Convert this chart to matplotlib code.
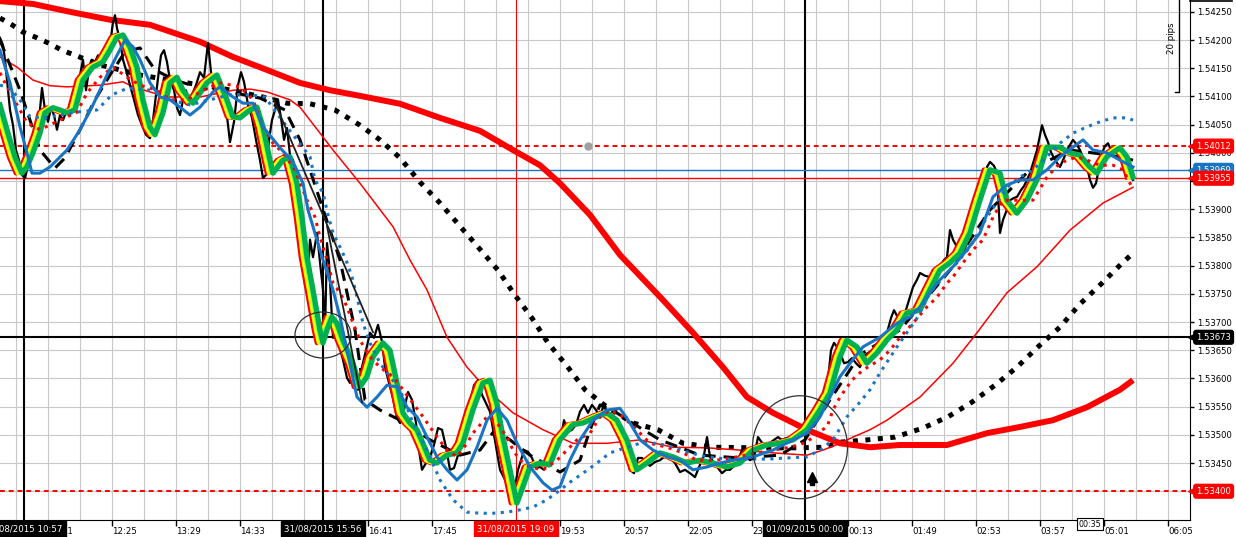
import matplotlib
matplotlib.use("Agg")
import matplotlib.pyplot as plt
from matplotlib.patches import Ellipse
from matplotlib.lines import Line2D
from matplotlib.transforms import offset_copy, blended_transform_factory

plt.rcParams['font.family'] = ['DejaVu Sans']

# ---- data ----
# bar index on x (1 bar ~ 1 px), price on y
time_ticks = [48, 112, 176, 240, 304, 368, 432, 496, 560, 624, 688, 752, 848, 912, 976, 1040, 1104, 1168]
time_labels = ['11:21', '12:25', '13:29', '14:33', '15:37', '16:41', '17:45', '18:49', '19:53',
               '20:57', '22:05', '23:09', '00:13', '01:49', '02:53', '03:57', '05:01', '06:05']

price_pts = [
    (0, 1.54204), (3, 1.54191), (5, 1.54165), (8, 1.54111), (10, 1.54076), (13, 1.54049), (16, 1.54005), (19, 1.53987), (22, 1.53961), (25, 1.53955),
    (27, 1.53970), (30, 1.54005), (33, 1.54023), (36, 1.54041), (39, 1.54058), (42, 1.54115), (45, 1.54076), (48, 1.54055), (51, 1.54080), (54, 1.54067),
    (57, 1.54041), (60, 1.54067), (63, 1.54058), (66, 1.54072), (70, 1.54067), (74, 1.54094), (78, 1.54120), (80, 1.54138), (83, 1.54165), (86, 1.54111),
    (89, 1.54147), (92, 1.54165), (95, 1.54161), (98, 1.54173), (101, 1.54156), (104, 1.54186), (107, 1.54182), (110, 1.54191), (113, 1.54232), (115, 1.54244),
    (117, 1.54221), (120, 1.54200), (123, 1.54165), (126, 1.54147), (130, 1.54120), (134, 1.54094), (138, 1.54067), (142, 1.54049), (146, 1.54032), (150, 1.54026),
    (153, 1.54058), (156, 1.54103), (159, 1.54147), (161, 1.54173), (164, 1.54182), (167, 1.54161), (170, 1.54129), (174, 1.54111), (177, 1.54080), (180, 1.54067),
    (183, 1.54094), (186, 1.54111), (189, 1.54085), (192, 1.54103), (196, 1.54120), (200, 1.54143), (204, 1.54133), (208, 1.54195), (211, 1.54143), (214, 1.54111),
    (218, 1.54120), (222, 1.54085), (226, 1.54080), (230, 1.54019), (234, 1.54055), (238, 1.54120), (241, 1.54143), (244, 1.54126), (248, 1.54085), (252, 1.54062),
    (256, 1.54023), (260, 1.53987), (263, 1.53955), (266, 1.53961), (269, 1.54023), (272, 1.54058), (275, 1.54076), (278, 1.54094), (281, 1.54062), (284, 1.54023),
    (287, 1.54044), (290, 1.53996), (293, 1.53987), (296, 1.53961), (299, 1.53899), (302, 1.53828), (305, 1.53766), (307, 1.53753), (310, 1.53846), (313, 1.53815),
    (317, 1.53858), (320, 1.53806), (323, 1.53757), (325, 1.53681), (327, 1.53840), (329, 1.53806), (331, 1.53739), (333, 1.53672), (336, 1.53695), (339, 1.53659),
    (343, 1.53633), (347, 1.53601), (350, 1.53592), (354, 1.53622), (358, 1.53580), (362, 1.53620), (366, 1.53650), (370, 1.53681), (374, 1.53672), (378, 1.53695),
    (382, 1.53665), (385, 1.53620), (389, 1.53592), (393, 1.53565), (397, 1.53530), (400, 1.53521), (404, 1.53544), (408, 1.53576), (412, 1.53562), (416, 1.53521),
    (419, 1.53473), (422, 1.53438), (426, 1.53450), (430, 1.53461), (434, 1.53482), (438, 1.53512), (442, 1.53509), (446, 1.53478), (450, 1.53438), (454, 1.53441),
    (458, 1.53464), (462, 1.53486), (466, 1.53512), (470, 1.53556), (474, 1.53588), (478, 1.53597), (482, 1.53571), (486, 1.53556), (490, 1.53541), (494, 1.53500),
    (497, 1.53470), (500, 1.53438), (504, 1.53424), (508, 1.53411), (512, 1.53397), (515, 1.53408), (518, 1.53438), (521, 1.53455), (524, 1.53473), (528, 1.53470),
    (532, 1.53459), (536, 1.53441), (540, 1.53443), (544, 1.53438), (548, 1.53452), (552, 1.53477), (556, 1.53491), (560, 1.53486), (564, 1.53526), (568, 1.53505),
    (572, 1.53509), (576, 1.53518), (580, 1.53541), (584, 1.53553), (588, 1.53539), (592, 1.53553), (596, 1.53544), (600, 1.53532), (603, 1.53549), (607, 1.53544),
    (611, 1.53530), (615, 1.53523), (619, 1.53512), (623, 1.53491), (627, 1.53477), (630, 1.53438), (634, 1.53432), (638, 1.53459), (642, 1.53459), (646, 1.53452),
    (650, 1.53445), (655, 1.53452), (660, 1.53455), (665, 1.53462), (670, 1.53459), (675, 1.53450), (680, 1.53434), (685, 1.53438), (690, 1.53432), (695, 1.53425),
    (700, 1.53447), (704, 1.53464), (707, 1.53496), (710, 1.53461), (714, 1.53450), (718, 1.53441), (722, 1.53432), (726, 1.53438), (730, 1.53438), (734, 1.53445),
    (738, 1.53455), (742, 1.53473), (746, 1.53462), (750, 1.53455), (754, 1.53459), (758, 1.53496), (762, 1.53486), (766, 1.53482), (770, 1.53486), (774, 1.53491),
    (778, 1.53496), (782, 1.53491), (786, 1.53494), (790, 1.53496), (795, 1.53498), (800, 1.53503), (805, 1.53505), (810, 1.53516), (815, 1.53526), (820, 1.53549),
    (824, 1.53571), (828, 1.53597), (831, 1.53650), (834, 1.53663), (837, 1.53656), (840, 1.53647), (844, 1.53627), (848, 1.53629), (852, 1.53636), (856, 1.53627),
    (860, 1.53620), (864, 1.53640), (868, 1.53645), (872, 1.53650), (877, 1.53656), (882, 1.53668), (887, 1.53681), (891, 1.53707), (894, 1.53721), (897, 1.53711),
    (901, 1.53707), (905, 1.53716), (909, 1.53739), (913, 1.53762), (917, 1.53775), (920, 1.53787), (925, 1.53782), (930, 1.53780), (935, 1.53789), (940, 1.53799),
    (944, 1.53810), (947, 1.53815), (950, 1.53863), (953, 1.53846), (957, 1.53833), (960, 1.53828), (963, 1.53822), (967, 1.53840), (970, 1.53858), (973, 1.53911),
    (977, 1.53916), (980, 1.53922), (984, 1.53952), (987, 1.53975), (990, 1.53984), (994, 1.53977), (997, 1.53964), (1000, 1.53858), (1003, 1.53881), (1006, 1.53895),
    (1010, 1.53916), (1014, 1.53920), (1017, 1.53922), (1021, 1.53934), (1024, 1.53941), (1027, 1.53952), (1030, 1.53964), (1034, 1.53987), (1037, 1.54005), (1040, 1.54032),
    (1042, 1.54049), (1045, 1.54032), (1048, 1.54019), (1051, 1.54001), (1054, 1.53991), (1057, 1.53982), (1060, 1.53975), (1064, 1.53991), (1067, 1.54005), (1070, 1.54014),
    (1073, 1.54023), (1077, 1.54014), (1080, 1.54005), (1084, 1.53987), (1087, 1.53975), (1090, 1.53952), (1093, 1.53938), (1096, 1.53946), (1099, 1.53973), (1102, 1.54000),
    (1105, 1.54012), (1108, 1.54017), (1111, 1.54005), (1114, 1.54000), (1117, 1.54009), (1120, 1.54005), (1124, 1.53993), (1127, 1.53982), (1130, 1.53966), (1133, 1.53952),
]

# rainbow base (green) MA
green_x = [0, 7, 15, 22, 27, 33, 40, 45, 53, 60, 67, 75, 83, 93, 103, 110, 117, 123, 130, 137,
           143, 150, 155, 163, 170, 177, 183, 193, 207, 217, 227, 233, 240, 250, 257, 263, 270, 273, 283, 290,
           297, 302, 307, 313, 320, 323, 327, 332, 337, 343, 353, 360, 367, 373, 383, 390, 397, 403, 410, 417,
           423, 430, 437, 447, 457, 463, 473, 483, 490, 497, 503, 510, 517, 523, 530, 540, 550, 560, 573, 583,
           597, 607, 617, 627, 637, 647, 660, 673, 687, 700, 713, 727, 740, 753, 767, 780, 793, 807, 820, 830,
           840, 847, 857, 867, 877, 887, 897, 907, 920, 930, 940, 950, 960, 970, 980, 990, 1000, 1007, 1017, 1027,
           1037, 1047, 1060, 1070, 1080, 1090, 1097, 1107, 1120, 1127, 1133]
green_y = [1.54085, 1.54041, 1.53993, 1.53964, 1.53975, 1.54000, 1.54035, 1.54071, 1.54080, 1.54076,
           1.54071, 1.54076, 1.54129, 1.54152, 1.54161, 1.54182, 1.54205, 1.54209, 1.54188, 1.54152,
           1.54094, 1.54046, 1.54032, 1.54071, 1.54124, 1.54134, 1.54111, 1.54088, 1.54124, 1.54138,
           1.54094, 1.54064, 1.54062, 1.54076, 1.54081, 1.54046, 1.53987, 1.53964, 1.53987, 1.53993,
           1.53946, 1.53886, 1.53815, 1.53757, 1.53686, 1.53663, 1.53686, 1.53709, 1.53698, 1.53668,
           1.53627, 1.53585, 1.53603, 1.53638, 1.53663, 1.53650, 1.53592, 1.53539, 1.53521, 1.53509,
           1.53485, 1.53455, 1.53450, 1.53464, 1.53468, 1.53485, 1.53544, 1.53592, 1.53597, 1.53556,
           1.53496, 1.53438, 1.53379, 1.53408, 1.53443, 1.53450, 1.53447, 1.53491, 1.53518, 1.53521,
           1.53532, 1.53539, 1.53526, 1.53491, 1.53438, 1.53450, 1.53468, 1.53461, 1.53450, 1.53455,
           1.53450, 1.53443, 1.53450, 1.53473, 1.53482, 1.53485, 1.53491, 1.53509, 1.53544, 1.53574,
           1.53638, 1.53668, 1.53656, 1.53627, 1.53645, 1.53668, 1.53686, 1.53716, 1.53721, 1.53757,
           1.53792, 1.53805, 1.53822, 1.53858, 1.53916, 1.53970, 1.53964, 1.53916, 1.53893, 1.53916,
           1.53952, 1.54010, 1.54010, 1.54000, 1.53996, 1.53975, 1.53964, 1.53993, 1.54009, 1.53993,
           1.53957]

blue_x = [0, 10, 20, 27, 32, 40, 50, 67, 80, 93, 107, 117, 125, 133, 140, 150, 160, 170, 180, 190,
          200, 213, 220, 233, 243, 253, 263, 280, 293, 303, 308, 313, 323, 333, 340, 347, 357, 367, 377, 387,
          397, 407, 417, 427, 437, 447, 457, 467, 477, 487, 497, 507, 517, 530, 543, 552, 560, 570, 580, 593,
          607, 620, 630, 640, 653, 667, 680, 693, 707, 720, 733, 753, 773, 793, 807, 820, 830, 840, 850, 863,
          880, 897, 910, 920, 930, 940, 953, 967, 980, 993, 1007, 1020, 1033, 1047, 1060, 1073, 1083, 1093, 1107, 1120,
          1133]
blue_y = [1.54182, 1.54124, 1.54046, 1.54000, 1.53964, 1.53964, 1.53975, 1.54005, 1.54041, 1.54085,
          1.54138, 1.54173, 1.54200, 1.54188, 1.54165, 1.54124, 1.54099, 1.54094, 1.54081, 1.54067,
          1.54081, 1.54108, 1.54117, 1.54099, 1.54088, 1.54088, 1.54046, 1.54009, 1.53984, 1.53946,
          1.53899, 1.53869, 1.53810, 1.53757, 1.53709, 1.53650, 1.53567, 1.53549, 1.53567, 1.53588,
          1.53585, 1.53549, 1.53532, 1.53496, 1.53461, 1.53438, 1.53420, 1.53438, 1.53478, 1.53526,
          1.53547, 1.53526, 1.53485, 1.53443, 1.53415, 1.53402, 1.53408, 1.53455, 1.53491, 1.53526,
          1.53544, 1.53547, 1.53521, 1.53491, 1.53473, 1.53461, 1.53455, 1.53438, 1.53443, 1.53450,
          1.53455, 1.53461, 1.53473, 1.53491, 1.53503, 1.53532, 1.53567, 1.53603, 1.53627, 1.53656,
          1.53673, 1.53698, 1.53709, 1.53727, 1.53752, 1.53775, 1.53798, 1.53828, 1.53858, 1.53922,
          1.53943, 1.53952, 1.53952, 1.53970, 1.53993, 1.54010, 1.54023, 1.54005, 1.54000, 1.53987,
          1.53975]

bdot_x = [0, 10, 20, 30, 45, 60, 75, 97, 112, 128, 150, 170, 190, 210, 230, 250, 265, 287, 310, 315,
          323, 328, 333, 340, 346, 352, 357, 363, 370, 380, 390, 400, 413, 427, 440, 453, 467, 480, 493, 507,
          520, 533, 547, 560, 570, 583, 597, 610, 627, 640, 657, 673, 690, 707, 727, 767, 807, 820, 833, 847,
          860, 870, 880, 897, 917, 930, 947, 957, 970, 987, 1007, 1020, 1033, 1047, 1060, 1073, 1087, 1100, 1113, 1127,
          1133]
bdot_y = [1.54120, 1.54115, 1.54094, 1.54064, 1.54062, 1.54067, 1.54072, 1.54076, 1.54103, 1.54115,
          1.54111, 1.54094, 1.54085, 1.54094, 1.54103, 1.54103, 1.54099, 1.54046, 1.53993, 1.53952,
          1.53929, 1.53890, 1.53858, 1.53833, 1.53810, 1.53780, 1.53744, 1.53698, 1.53663, 1.53627,
          1.53603, 1.53580, 1.53521, 1.53473, 1.53420, 1.53385, 1.53363, 1.53361, 1.53361, 1.53363,
          1.53367, 1.53372, 1.53385, 1.53402, 1.53416, 1.53432, 1.53450, 1.53468, 1.53478, 1.53485,
          1.53485, 1.53478, 1.53468, 1.53461, 1.53457, 1.53457, 1.53461, 1.53473, 1.53491, 1.53532,
          1.53558, 1.53580, 1.53610, 1.53656, 1.53707, 1.53752, 1.53787, 1.53805, 1.53833, 1.53886,
          1.53939, 1.53957, 1.53970, 1.53993, 1.54017, 1.54035, 1.54046, 1.54055, 1.54062, 1.54062,
          1.54058]

rdot_x = [0, 7, 20, 27, 40, 60, 77, 87, 100, 113, 127, 140, 157, 170, 187, 203, 220, 240, 253, 263,
          273, 283, 295, 307, 315, 320, 327, 333, 340, 347, 353, 360, 370, 380, 393, 403, 413, 423, 430, 437,
          447, 457, 467, 473, 487, 497, 507, 513, 520, 530, 543, 557, 567, 577, 590, 600, 610, 623, 640, 650,
          667, 683, 697, 717, 737, 757, 773, 790, 807, 817, 827, 833, 840, 852, 863, 880, 890, 900, 913, 927,
          937, 947, 953, 963, 973, 983, 993, 1003, 1017, 1033, 1047, 1060, 1077, 1087, 1100, 1113, 1123, 1132]
rdot_y = [1.54142, 1.54117, 1.54076, 1.54053, 1.54041, 1.54058, 1.54072, 1.54106, 1.54134, 1.54152,
          1.54134, 1.54120, 1.54111, 1.54094, 1.54094, 1.54111, 1.54124, 1.54117, 1.54094, 1.54046,
          1.54017, 1.54000, 1.53970, 1.53916, 1.53886, 1.53851, 1.53810, 1.53769, 1.53752, 1.53727,
          1.53698, 1.53668, 1.53638, 1.53620, 1.53603, 1.53580, 1.53556, 1.53532, 1.53514, 1.53496,
          1.53473, 1.53461, 1.53485, 1.53503, 1.53532, 1.53521, 1.53496, 1.53473, 1.53455, 1.53443,
          1.53438, 1.53455, 1.53473, 1.53491, 1.53503, 1.53532, 1.53544, 1.53532, 1.53503, 1.53485,
          1.53478, 1.53468, 1.53455, 1.53455, 1.53461, 1.53468, 1.53473, 1.53478, 1.53487, 1.53503,
          1.53514, 1.53544, 1.53567, 1.53597, 1.53615, 1.53633, 1.53650, 1.53673, 1.53698, 1.53727,
          1.53744, 1.53769, 1.53780, 1.53805, 1.53828, 1.53846, 1.53886, 1.53916, 1.53916, 1.53916,
          1.53957, 1.53982, 1.53993, 1.53987, 1.53978, 1.53978, 1.53970, 1.53939]

dash_x = [0, 20, 40, 55, 65, 80, 95, 110, 125, 140, 155, 175, 200, 230, 260, 285, 300, 320, 340, 355,
          365, 380, 400, 430, 460, 480, 495, 510, 530, 560, 580, 590, 600, 615, 635, 660, 700, 740, 780, 805,
          830, 860, 900, 950, 990, 1030, 1070, 1110, 1133]
dash_y = [1.54200, 1.54111, 1.54005, 1.53973, 1.53991, 1.54041, 1.54094, 1.54138, 1.54179, 1.54186,
          1.54147, 1.54129, 1.54115, 1.54108, 1.54097, 1.54076, 1.54023, 1.53916, 1.53810, 1.53686,
          1.53562, 1.53544, 1.53526, 1.53491, 1.53464, 1.53473, 1.53509, 1.53491, 1.53464, 1.53434,
          1.53455, 1.53509, 1.53553, 1.53541, 1.53518, 1.53491, 1.53464, 1.53459, 1.53464, 1.53491,
          1.53562, 1.53642, 1.53686, 1.53792, 1.53899, 1.53970, 1.54005, 1.53996, 1.53987]

sma_x = [0, 12, 23, 37, 48, 62, 75, 100, 140, 180, 220, 263, 287, 310, 335, 360, 380, 400, 420, 440,
         459, 479, 498, 514, 532, 548, 567, 585, 607, 633, 658, 683, 713, 757, 797, 825, 840, 867, 895, 923,
         948, 972, 995, 1017, 1038, 1060, 1080, 1102, 1123, 1133]
sma_y = [1.54239, 1.54227, 1.54214, 1.54204, 1.54195, 1.54182, 1.54173, 1.54156, 1.54138, 1.54126,
         1.54115, 1.54099, 1.54088, 1.54087, 1.54076, 1.54049, 1.54023, 1.53991, 1.53948, 1.53911,
         1.53872, 1.53831, 1.53792, 1.53750, 1.53707, 1.53663, 1.53622, 1.53580, 1.53549, 1.53521,
         1.53509, 1.53485, 1.53478, 1.53477, 1.53477, 1.53478, 1.53487, 1.53491, 1.53496, 1.53512,
         1.53532, 1.53558, 1.53588, 1.53620, 1.53656, 1.53691, 1.53732, 1.53769, 1.53806, 1.53822]

mid_x = [0, 17, 33, 50, 67, 100, 123, 133, 167, 200, 233, 250, 267, 290, 300, 333, 360, 393, 410, 427,
         447, 467, 487, 513, 543, 573, 607, 640, 673, 707, 740, 773, 807, 823, 840, 853, 870, 887, 920, 953,
         977, 1007, 1037, 1070, 1103, 1133]
mid_y = [1.54170, 1.54152, 1.54129, 1.54119, 1.54117, 1.54120, 1.54126, 1.54117, 1.54099, 1.54099,
         1.54111, 1.54113, 1.54108, 1.54094, 1.54081, 1.54005, 1.53946, 1.53869, 1.53810, 1.53757,
         1.53673, 1.53620, 1.53580, 1.53539, 1.53509, 1.53485, 1.53485, 1.53491, 1.53478, 1.53477,
         1.53473, 1.53468, 1.53464, 1.53473, 1.53485, 1.53496, 1.53509, 1.53526, 1.53567, 1.53627,
         1.53681, 1.53752, 1.53798, 1.53863, 1.53911, 1.53939]

slow_x = [0, 33, 70, 110, 150, 200, 233, 267, 300, 330, 360, 400, 440, 480, 513, 540, 560, 590, 620, 663,
          693, 723, 747, 773, 807, 840, 870, 900, 947, 987, 1020, 1053, 1087, 1120, 1133]
slow_y = [1.54269, 1.54264, 1.54250, 1.54236, 1.54227, 1.54197, 1.54170, 1.54147, 1.54124, 1.54111,
          1.54101, 1.54087, 1.54062, 1.54039, 1.54005, 1.53978, 1.53946, 1.53890, 1.53819, 1.53739,
          1.53681, 1.53620, 1.53567, 1.53539, 1.53509, 1.53485, 1.53478, 1.53482, 1.53482, 1.53503,
          1.53514, 1.53526, 1.53549, 1.53580, 1.53597]

trend_lines = [((273, 1.54097), (373, 1.53682)), ((327, 1.53870), (362, 1.53558))]
vlines_black = [24, 323, 805]
vline_red = 516
level_black = 1.53673
level_red_dash = [1.54012, 1.53400]
level_blue = 1.53969
level_red = 1.53955
date_boxes = [(24, '31/08/2015 10:57', 'black'), (323, '31/08/2015 15:56', 'black'),
              (516, '31/08/2015 19:09', '#ff0000'), (805, '01/09/2015 00:00', 'black')]

RED = '#ff0000'
BLUE = '#1a74c4'
GREEN = '#00b050'
LGREEN = '#80ff60'
YELLOW = '#ffff00'

fig = plt.figure(figsize=(12.36, 5.37), dpi=100)
ax = fig.add_axes([0, 17 / 537, 1190 / 1236, 520 / 537])
ax.set_xlim(0, 1190)
ax.set_ylim(1.53349, 1.54271)

# grid
for gx in range(16, 1190, 32):
    ax.axvline(gx, color='#c8c8c8', lw=0.8, zorder=0)
yt = [1.534 + 0.0005 * i for i in range(18)]
for gy in yt:
    ax.axhline(gy, color='#c8c8c8', lw=0.8, zorder=0)

# crosshair / level lines
for vx in vlines_black:
    ax.axvline(vx, color='black', lw=1.5, zorder=1)
ax.axvline(vline_red, color=RED, lw=0.8, zorder=1)
ax.axhline(level_black, color='black', lw=1.5, zorder=1)
for lv in level_red_dash:
    ax.axhline(lv, color=RED, lw=1.4, ls=(0, (2.5, 2)), zorder=1)
ax.axhline(level_blue, color=BLUE, lw=1, zorder=1)
ax.axhline(level_red, color=RED, lw=1, zorder=1)

# moving averages
ax.plot(slow_x, slow_y, color=RED, lw=4.3, zorder=2.8, solid_capstyle='butt')
ax.plot(mid_x, mid_y, color=RED, lw=1.1, zorder=2.9)
ax.plot(sma_x, sma_y, color='black', lw=3.6, ls=(0, (1, 1.5)), zorder=2.6)
ax.plot(dash_x, dash_y, color='black', lw=2.2, ls=(0, (4, 2.6)), zorder=3.2)

px = [p[0] for p in price_pts]
py = [p[1] for p in price_pts]
ax.plot(px, py, color='black', lw=1.6, zorder=3.4)

for dx, col, lw, z in [(-6, RED, 3.4, 4.0), (-4, YELLOW, 3.2, 4.1), (-2, LGREEN, 2.6, 4.2), (0, GREEN, 3.8, 4.3)]:
    tr = offset_copy(ax.transData, fig=fig, x=dx, y=0, units='dots')
    ax.plot(green_x, green_y, color=col, lw=lw, zorder=z, transform=tr, solid_joinstyle='round')

ax.plot(rdot_x, rdot_y, color=RED, lw=2.2, ls=(0, (1, 1.8)), zorder=4.6)
ax.plot(bdot_x, bdot_y, color=BLUE, lw=2.2, ls=(0, (1, 1.8)), zorder=4.6)
ax.plot(blue_x, blue_y, color=BLUE, lw=2.2, zorder=4.8)

for (x0, y0), (x1, y1) in trend_lines:
    ax.plot([x0, x1], [y0, y1], color='#202020', lw=1.3, zorder=4.9)

# annotations on chart
ax.add_patch(Ellipse((323, 1.53677), 56, 0.000816, fill=False, ec='#303030', lw=0.9, zorder=6))
ax.add_patch(Ellipse((800, 1.53478), 95, 0.001826, fill=False, ec='#303030', lw=0.9, zorder=6))
ax.plot([812], [1.53426], marker='^', ms=7, color='black', zorder=6)
ax.plot([812], [1.53415], marker='s', ms=3.5, color='black', zorder=6)
ax.plot([588], [1.54012], marker='o', ms=5, color='#a0a0a0', mec='#a0a0a0', zorder=6)

ax.plot([1179, 1179, 1175], [1.5428, 1.54108, 1.54108], color='black', lw=1, zorder=6)
ax.text(1172, 1.54204, '20 pips', rotation=90, fontsize=6.2, ha='center', va='center', zorder=6)

# axes styling
for s in ['top', 'left']:
    ax.spines[s].set_visible(False)
ax.spines['right'].set_color('black')
ax.spines['bottom'].set_color('black')
ax.yaxis.tick_right()
ax.set_yticks(yt)
ax.set_yticklabels(['%.5f' % v for v in yt])
ax.set_xticks(time_ticks)
ax.set_xticklabels(time_labels, ha='left')
ax.tick_params(axis='y', direction='out', length=3, width=1, pad=2, labelsize=6.1)
ax.tick_params(axis='x', direction='out', length=4, width=1, pad=1, labelsize=6.2)

# boxes on the time axis
tb = blended_transform_factory(ax.transData, ax.transAxes)
for bx, txt, col in date_boxes:
    ax.text(bx, -0.0175, txt, transform=tb, ha='center', va='center', fontsize=6.2, color='white',
            bbox=dict(boxstyle='square,pad=0.38', fc=col, ec=col), zorder=10, clip_on=False)
ax.text(1090, -0.008, '00:35', transform=tb, ha='center', va='center', fontsize=5.8, color='black',
        bbox=dict(boxstyle='square,pad=0.2', fc='white', ec='black', lw=0.8), zorder=10, clip_on=False)
ax.plot([1090], [-0.001], marker='^', ms=4, mfc='white', mec='black', mew=0.6, transform=tb,
        clip_on=False, zorder=9)

# price labels on the right axis
ty = ax.get_yaxis_transform()
for val, col in [(1.54012, RED), (1.53969, BLUE), (1.53955, RED), (1.53673, 'black'), (1.53400, RED)]:
    ax.text(1.0052, val, '%.5f' % val, transform=ty, ha='left', va='center', fontsize=6.1, color='white',
            bbox=dict(boxstyle='round,pad=0.28', fc=col, ec=col), zorder=10, clip_on=False)
    ax.plot([1.002], [val], marker='<', ms=6, color=col, transform=ty, clip_on=False, zorder=10)

fig.add_artist(Line2D([1190 / 1236, 1232 / 1236], [1 - 0.8 / 537, 1 - 0.8 / 537], color='black', lw=1.2))

fig.savefig('out.png', dpi=100, facecolor='white')
